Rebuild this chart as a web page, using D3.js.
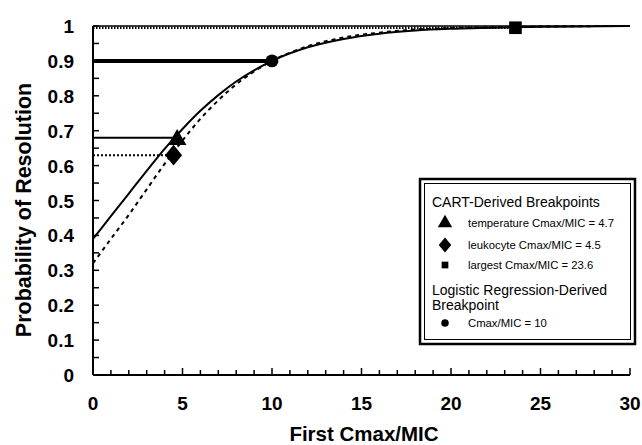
<!DOCTYPE html>
<html>
<head>
<meta charset="utf-8">
<script src="https://cdn.jsdelivr.net/npm/d3@7"></script>
<style>
  body { margin: 0; background: #fff; }
  text { font-family: "Liberation Sans", Arial, sans-serif; fill: #000; }
</style>
</head>
<body>
<div id="chart"></div>
<script>
// values
const curveX      = [0, 1, 2, 3, 4, 5, 6, 7, 8, 9, 10, 12, 14, 16, 18, 20, 23, 26, 30];
const solidProb   = [0.39, 0.455, 0.52, 0.585, 0.648, 0.705, 0.757, 0.802, 0.841, 0.873, 0.90, 0.939, 0.963, 0.978, 0.987, 0.992, 0.996, 0.998, 1.0];
const dashedProb  = [0.32, 0.39, 0.459, 0.532, 0.605, 0.672, 0.734, 0.787, 0.833, 0.87, 0.90, 0.942, 0.967, 0.981, 0.99, 0.994, 0.997, 0.999, 1.0];

const breakpoints = [
  { name: "temperature Cmax/MIC = 4.7", x: 4.7,  y: 0.68,  shape: "triangle" },
  { name: "leukocyte Cmax/MIC = 4.5",   x: 4.5,  y: 0.63,  shape: "diamond" },
  { name: "largest Cmax/MIC = 23.6",    x: 23.6, y: 0.995, shape: "square" },
  { name: "Cmax/MIC = 10",              x: 10,   y: 0.90,  shape: "circle" }
];

const xTicks = [0, 5, 10, 15, 20, 25, 30];
const yTicks = [0, 0.1, 0.2, 0.3, 0.4, 0.5, 0.6, 0.7, 0.8, 0.9, 1];

const w = 642, h = 445;
const svg = d3.select("#chart").append("svg")
  .attr("width", w).attr("height", h);

const x = d3.scaleLinear().domain([0, 30]).range([93, 630]);
const y = d3.scaleLinear().domain([0, 1]).range([375, 26]);

// horizontal reference lines
svg.append("line")
  .attr("x1", x(0)).attr("x2", x(30)).attr("y1", y(1)).attr("y2", y(1))
  .attr("stroke", "#000").attr("stroke-width", 1.5);
svg.append("line")
  .attr("x1", x(0)).attr("x2", x(23.6)).attr("y1", y(0.995)).attr("y2", y(0.995))
  .attr("stroke", "#000").attr("stroke-width", 2.5).attr("stroke-dasharray", "1.5,1.5");
svg.append("line")
  .attr("x1", x(0)).attr("x2", x(10)).attr("y1", y(0.9)).attr("y2", y(0.9))
  .attr("stroke", "#000").attr("stroke-width", 4);
svg.append("line")
  .attr("x1", x(0)).attr("x2", x(4.7)).attr("y1", y(0.68)).attr("y2", y(0.68))
  .attr("stroke", "#000").attr("stroke-width", 2);
svg.append("line")
  .attr("x1", x(0)).attr("x2", x(4.5)).attr("y1", y(0.63)).attr("y2", y(0.63))
  .attr("stroke", "#000").attr("stroke-width", 2).attr("stroke-dasharray", "2,2");

// curves
const line = d3.line().curve(d3.curveMonotoneX)
  .x(d => x(d[0])).y(d => y(d[1]));

svg.append("path")
  .attr("d", line(d3.zip(curveX, solidProb)))
  .attr("fill", "none").attr("stroke", "#000").attr("stroke-width", 2);
svg.append("path")
  .attr("d", line(d3.zip(curveX, dashedProb)))
  .attr("fill", "none").attr("stroke", "#000").attr("stroke-width", 2)
  .attr("stroke-dasharray", "4,4");

// axes
const xAxis = svg.append("g").attr("transform", "translate(0," + y(0) + ")");
xAxis.append("line").attr("x1", x(0)).attr("x2", x(30))
  .attr("stroke", "#000").attr("stroke-width", 2);
xAxis.selectAll("line.tick").data(d3.range(0, 31)).enter()
  .append("line").attr("class", "tick")
  .attr("x1", d => x(d)).attr("x2", d => x(d))
  .attr("y1", 0).attr("y2", d => d % 5 === 0 ? -7 : -5)
  .attr("stroke", "#000").attr("stroke-width", 1.5);
xAxis.selectAll("text").data(xTicks).enter()
  .append("text")
  .attr("x", d => x(d)).attr("y", 35)
  .attr("text-anchor", "middle")
  .style("font-size", "19px").style("font-weight", "bold")
  .text(d => d);

const yAxis = svg.append("g").attr("transform", "translate(" + x(0) + ",0)");
yAxis.append("line").attr("y1", y(0)).attr("y2", y(1))
  .attr("stroke", "#000").attr("stroke-width", 2);
yAxis.selectAll("line.tick").data(d3.range(0, 21)).enter()
  .append("line").attr("class", "tick")
  .attr("y1", d => y(d / 20)).attr("y2", d => y(d / 20))
  .attr("x1", 0).attr("x2", 6)
  .attr("stroke", "#000").attr("stroke-width", 1.5);
yAxis.selectAll("text").data(yTicks).enter()
  .append("text")
  .attr("x", -19).attr("y", d => y(d) + 7)
  .attr("text-anchor", "end")
  .style("font-size", "19px").style("font-weight", "bold")
  .text(d => d);

svg.append("text")
  .attr("x", 364).attr("y", 441)
  .attr("text-anchor", "middle")
  .style("font-size", "20.5px").style("font-weight", "bold")
  .text("First Cmax/MIC");
svg.append("text")
  .attr("transform", "translate(31," + 210 + ") rotate(-90)")
  .attr("text-anchor", "middle")
  .style("font-size", "21.5px").style("font-weight", "bold")
  .text("Probability of Resolution");

// markers
function shapePath(s, size) {
  if (s === "triangle") return d3.symbol(d3.symbolTriangle, size)();
  if (s === "square") return d3.symbol(d3.symbolSquare, size)();
  if (s === "circle") return d3.symbol(d3.symbolCircle, size)();
  // diamond: taller than wide
  const a = Math.sqrt(size) * 0.75;
  return "M0," + (-a * 1.2) + "L" + a + ",0L0," + (a * 1.2) + "L" + (-a) + ",0Z";
}
const markerSize = { triangle: 150, diamond: 130, square: 160, circle: 130 };

svg.selectAll("path.pt").data(breakpoints).enter()
  .append("path").attr("class", "pt")
  .attr("transform", d => "translate(" + x(d.x) + "," + (y(d.y) + (d.shape === "triangle" ? 2 : 0)) + ")")
  .attr("d", d => shapePath(d.shape, markerSize[d.shape]))
  .attr("fill", "#000");

// legend
const lg = svg.append("g");
lg.append("rect").attr("x", 420).attr("y", 179).attr("width", 215).attr("height", 165)
  .attr("fill", "#fff").attr("stroke", "#000").attr("stroke-width", 2.5);
lg.append("rect").attr("x", 424.5).attr("y", 183.5).attr("width", 206).attr("height", 156)
  .attr("fill", "none").attr("stroke", "#000").attr("stroke-width", 1);

lg.append("text").attr("x", 432).attr("y", 207)
  .style("font-size", "14px").text("CART-Derived Breakpoints");
lg.append("text").attr("x", 432).attr("y", 295)
  .style("font-size", "14px").text("Logistic Regression-Derived");
lg.append("text").attr("x", 432).attr("y", 310)
  .style("font-size", "14px").text("Breakpoint");

const legendY = [223, 245, 265, 323];
const legendSize = { triangle: 90, diamond: 70, square: 45, circle: 45 };
breakpoints.forEach((d, i) => {
  lg.append("path")
    .attr("transform", "translate(445," + legendY[i] + ")")
    .attr("d", shapePath(d.shape, legendSize[d.shape]))
    .attr("fill", "#000");
  lg.append("text").attr("x", 468).attr("y", legendY[i] + 4)
    .style("font-size", "11.3px").text(d.name);
});
</script>
</body>
</html>
